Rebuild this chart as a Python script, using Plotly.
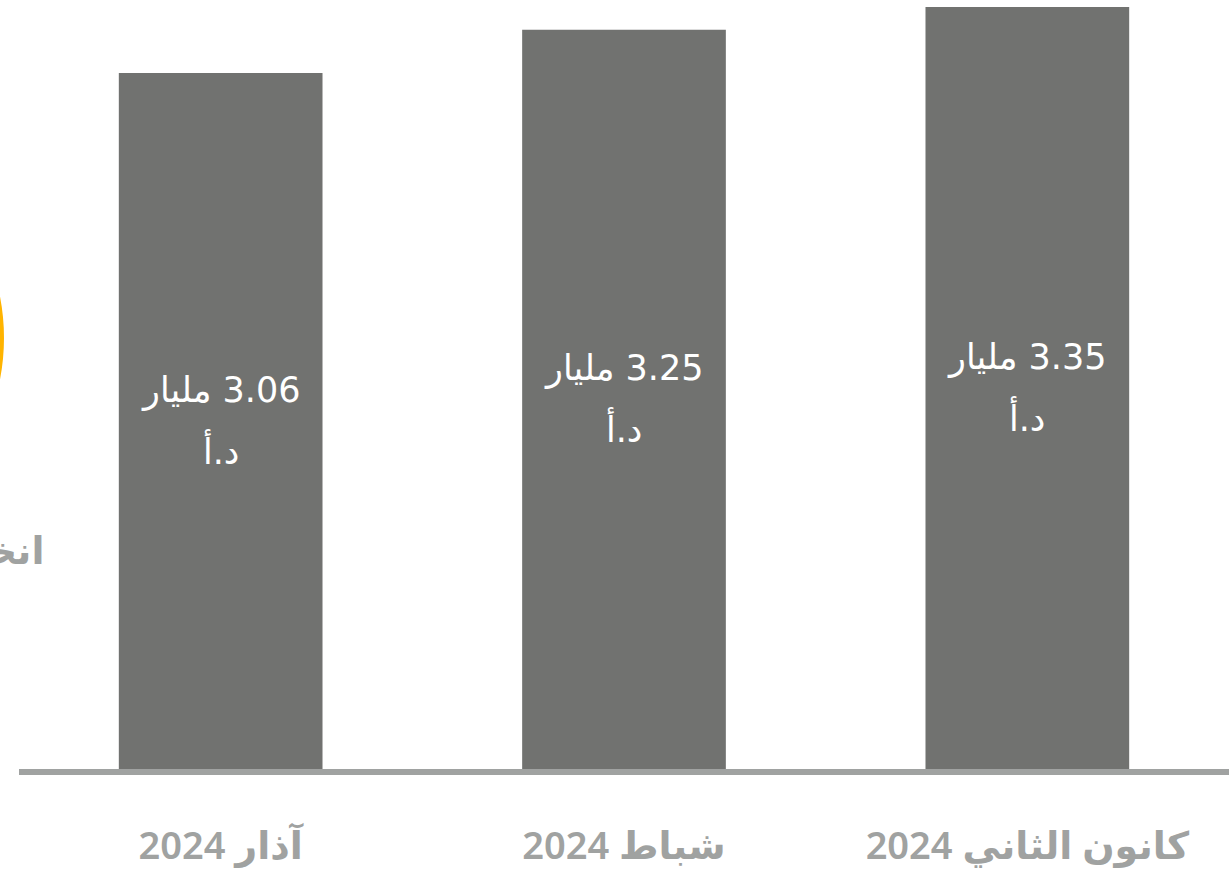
import plotly.graph_objects as go

categories = ["كانون الثاني 2024", "شباط 2024", "آذار 2024"]
values = [3.35, 3.25, 3.06]
value_labels = ["\u200f3.35 مليار", "\u200f3.25 مليار", "\u200f3.06 مليار"]
unit_label = "د.أ"
side_text = "انخفاض"

BAR = "#717270"
GREY = "#a0a2a1"
FONT = "Noto Sans, DejaVu Sans, sans-serif"
BAR_FONT = "DejaVu Sans, sans-serif"

fig = go.Figure()
fig.add_trace(go.Bar(
    x=categories, y=values, width=0.505,
    marker=dict(color=BAR, line=dict(width=0)),
    hoverinfo="skip",
))

anns = []
for c, v, lab in zip(categories, values, value_labels):
    anns.append(dict(x=c, y=v / 2, xref="x", yref="y", text=lab, showarrow=False,
                     yshift=31, font=dict(family=BAR_FONT, size=35, color="white")))
    anns.append(dict(x=c, y=v / 2, xref="x", yref="y", text=unit_label, showarrow=False,
                     yshift=-29, font=dict(family=BAR_FONT, size=35, color="white")))

anns.append(dict(x=0.0223, y=0.286, xref="paper", yref="paper", text=side_text,
                 showarrow=False, xanchor="right", yanchor="middle",
                 font=dict(family=FONT, size=38, color=GREY, weight=600)))

fig.update_layout(
    width=1229, height=873,
    margin=dict(l=19, r=0, t=0, b=104),
    paper_bgcolor="white", plot_bgcolor="white",
    showlegend=False,
    annotations=anns,
    shapes=[dict(type="circle", xref="paper", yref="paper",
                 x0=-0.3711, x1=-0.0124, y0=0.2783, y1=0.8427,
                 fillcolor="#FFB400", line=dict(width=0), layer="below")],
    xaxis=dict(
        range=[2.5, -0.5], showgrid=False, zeroline=False,
        showline=True, linewidth=6, linecolor=GREY,
        ticks="", ticklabelstandoff=38,
        tickfont=dict(family=FONT, size=38, color=GREY, weight=600),
    ),
    yaxis=dict(range=[0, 3.381], visible=False, showgrid=False, zeroline=False),
)

fig.write_html("out.html", config={"displayModeBar": False},
               post_script="document.body.style.margin='0';document.body.style.overflow='hidden';")
